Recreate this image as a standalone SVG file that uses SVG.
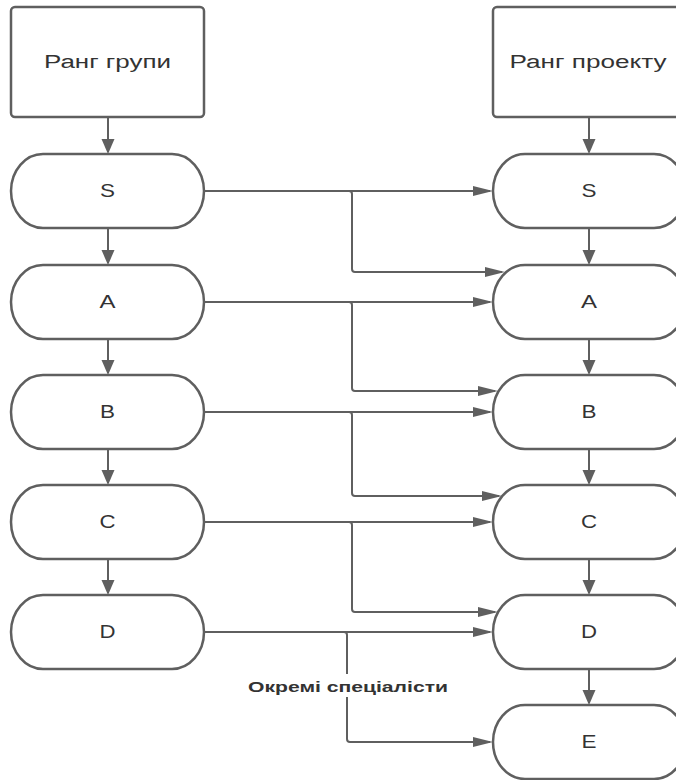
<svg xmlns="http://www.w3.org/2000/svg" width="676" height="780" viewBox="0 0 676 780">
<style>
.box{fill:#fff;stroke:#5f5f5f;stroke-width:2.5}
.t{font-family:"Liberation Sans",Arial,sans-serif;font-size:18px;fill:#333;text-anchor:middle}
.lbl{font-family:"Liberation Sans",Arial,sans-serif;font-size:15px;font-weight:bold;fill:#333;text-anchor:middle}
.c{fill:none;stroke:#5f5f5f;stroke-width:2}
</style>
<defs>
<marker id="ah" markerUnits="userSpaceOnUse" markerWidth="21" markerHeight="11" refX="17" refY="5" orient="auto"><path d="M0,0 L20,5 L0,10 z" fill="#5f5f5f"/></marker>
<marker id="av" markerUnits="userSpaceOnUse" markerWidth="16" markerHeight="14" refX="13" refY="6.5" orient="auto"><path d="M0,0 L15,6.5 L0,13 z" fill="#5f5f5f"/></marker>
</defs>
<g id="connectors">
<path class="c" marker-end="url(#av)" d="M108,117 V152"/>
<path class="c" marker-end="url(#av)" d="M108,228 V263"/>
<path class="c" marker-end="url(#av)" d="M108,339 V373"/>
<path class="c" marker-end="url(#av)" d="M108,449 V483"/>
<path class="c" marker-end="url(#av)" d="M108,559 V593"/>
<path class="c" marker-end="url(#av)" d="M589,117 V152"/>
<path class="c" marker-end="url(#av)" d="M589,228 V263"/>
<path class="c" marker-end="url(#av)" d="M589,339 V373"/>
<path class="c" marker-end="url(#av)" d="M589,449 V483"/>
<path class="c" marker-end="url(#av)" d="M589,559 V593"/>
<path class="c" marker-end="url(#av)" d="M589,669 V703"/>
<path class="c" marker-end="url(#ah)" d="M204,191 H490"/>
<path class="c" marker-end="url(#ah)" d="M349,191 Q352,191 352,194 V269 Q352,272 355,272 H502"/>
<path class="c" marker-end="url(#ah)" d="M204,302 H490"/>
<path class="c" marker-end="url(#ah)" d="M349,302 Q352,302 352,305 V388 Q352,391 355,391 H495"/>
<path class="c" marker-end="url(#ah)" d="M204,412 H490"/>
<path class="c" marker-end="url(#ah)" d="M349,412 Q352,412 352,415 V493 Q352,496 355,496 H499"/>
<path class="c" marker-end="url(#ah)" d="M204,522 H490"/>
<path class="c" marker-end="url(#ah)" d="M349,522 Q352,522 352,525 V609 Q352,612 355,612 H495"/>
<path class="c" marker-end="url(#ah)" d="M204,632 H490"/>
<path class="c" marker-end="url(#ah)" d="M344,632 Q347,632 347,635 V739 Q347,742 350,742 H490"/>
</g>
<g id="label">
<rect x="246" y="674" width="204" height="23" fill="#fff"/>
<text class="lbl" x="348" y="692" textLength="200" lengthAdjust="spacingAndGlyphs">Окремі спеціалісти</text>
</g>
<g id="rank-group">
<rect class="box" x="11" y="7" width="193" height="110" rx="4"/>
<text class="t" x="107.5" y="68" textLength="127" lengthAdjust="spacingAndGlyphs">Ранг групи</text>
</g>
<g id="rank-project">
<rect class="box" x="493" y="7" width="193" height="110" rx="4"/>
<text class="t" x="588" y="68" textLength="157" lengthAdjust="spacingAndGlyphs">Ранг проекту</text>
</g>
<g id="g-S"><rect class="box" x="11" y="154" width="193" height="74" rx="32" ry="37"/><text class="t" x="107.5" y="197" textLength="15" lengthAdjust="spacingAndGlyphs">S</text></g>
<g id="g-A"><rect class="box" x="11" y="265" width="193" height="74" rx="32" ry="37"/><text class="t" x="107.5" y="308" textLength="16" lengthAdjust="spacingAndGlyphs">A</text></g>
<g id="g-B"><rect class="box" x="11" y="375" width="193" height="74" rx="32" ry="37"/><text class="t" x="107.5" y="418" textLength="15" lengthAdjust="spacingAndGlyphs">B</text></g>
<g id="g-C"><rect class="box" x="11" y="485" width="193" height="74" rx="32" ry="37"/><text class="t" x="107.5" y="528" textLength="16" lengthAdjust="spacingAndGlyphs">C</text></g>
<g id="g-D"><rect class="box" x="11" y="595" width="193" height="74" rx="32" ry="37"/><text class="t" x="107.5" y="638" textLength="16" lengthAdjust="spacingAndGlyphs">D</text></g>
<g id="p-S"><rect class="box" x="493" y="154" width="193" height="74" rx="32" ry="37"/><text class="t" x="589" y="197" textLength="15" lengthAdjust="spacingAndGlyphs">S</text></g>
<g id="p-A"><rect class="box" x="493" y="265" width="193" height="74" rx="32" ry="37"/><text class="t" x="589" y="308" textLength="16" lengthAdjust="spacingAndGlyphs">A</text></g>
<g id="p-B"><rect class="box" x="493" y="375" width="193" height="74" rx="32" ry="37"/><text class="t" x="589" y="418" textLength="15" lengthAdjust="spacingAndGlyphs">B</text></g>
<g id="p-C"><rect class="box" x="493" y="485" width="193" height="74" rx="32" ry="37"/><text class="t" x="589" y="528" textLength="16" lengthAdjust="spacingAndGlyphs">C</text></g>
<g id="p-D"><rect class="box" x="493" y="595" width="193" height="74" rx="32" ry="37"/><text class="t" x="589" y="638" textLength="16" lengthAdjust="spacingAndGlyphs">D</text></g>
<g id="p-E"><rect class="box" x="493" y="705" width="193" height="74" rx="32" ry="37"/><text class="t" x="589" y="748" textLength="15" lengthAdjust="spacingAndGlyphs">E</text></g>
</svg>
